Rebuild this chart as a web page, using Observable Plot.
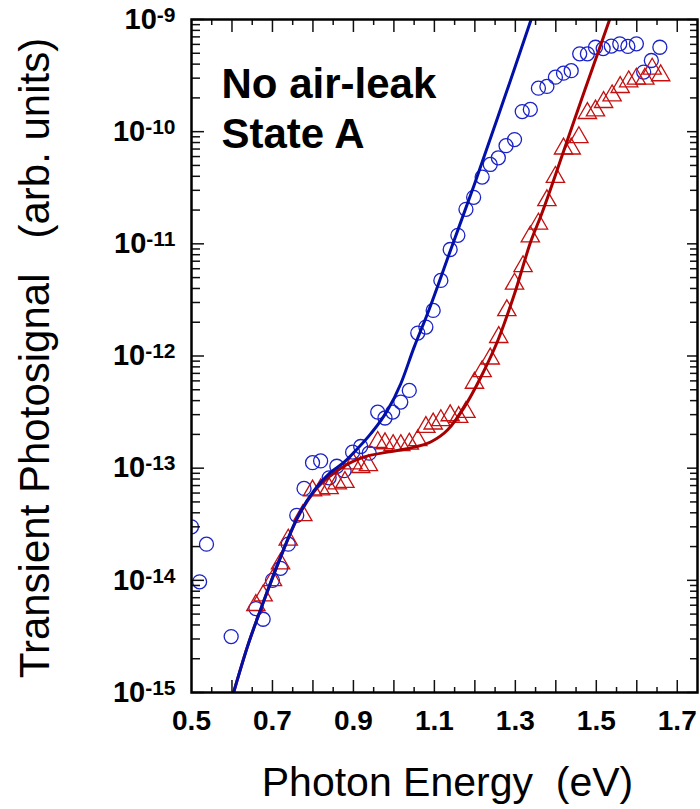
<!DOCTYPE html>
<html><head><meta charset="utf-8">
<script src="https://cdn.jsdelivr.net/npm/d3@7"></script>
<script src="https://cdn.jsdelivr.net/npm/@observablehq/plot@0.6"></script>
<style>body{margin:0;background:#fff} svg{display:block}</style>
</head><body><div id="chart"></div>
<script>
// Blue open circles (measured)
const circleX = [0.500,0.520,0.537,0.598,0.659,0.677,0.700,0.720,0.739,0.760,0.778,0.799,0.819,0.840,0.859,0.877,0.898,0.918,0.939,0.960,0.978,0.997,1.017,1.038,1.059,1.079,1.097,1.116,1.139,1.158,1.178,1.197,1.218,1.238,1.258,1.277,1.298,1.317,1.337,1.357,1.378,1.399,1.419,1.438,1.459,1.478,1.498,1.517,1.537,1.558,1.578,1.599,1.617,1.636,1.657];
const circleY = [3.0e-14,9.7e-15,2.1e-14,3.15e-15,5.6e-15,4.5e-15,1.0e-14,1.28e-14,2.1e-14,3.8e-14,6.6e-14,1.12e-13,1.16e-13,8.2e-14,1.04e-13,9.5e-14,1.39e-13,1.56e-13,1.36e-13,3.16e-13,2.8e-13,3.16e-13,3.88e-13,4.93e-13,1.6e-12,1.81e-12,2.55e-12,4.72e-12,8.9e-12,1.19e-11,2.03e-11,2.6e-11,3.94e-11,5.1e-11,5.85e-11,7.5e-11,8.5e-11,1.51e-10,1.58e-10,2.44e-10,2.53e-10,3.06e-10,3.32e-10,3.5e-10,4.94e-10,4.94e-10,5.66e-10,5.5e-10,5.8e-10,6.07e-10,5.75e-10,6.07e-10,3.4e-10,4.31e-10,5.66e-10];
// Red open triangles (measured)
const triX = [0.659,0.677,0.700,0.720,0.739,0.775,0.799,0.819,0.840,0.860,0.879,0.899,0.918,0.937,0.960,0.978,0.998,1.017,1.038,1.059,1.079,1.097,1.116,1.139,1.160,1.178,1.199,1.218,1.238,1.259,1.279,1.298,1.319,1.337,1.357,1.378,1.399,1.419,1.438,1.457,1.478,1.498,1.518,1.539,1.559,1.580,1.599,1.620,1.638,1.659];
const triY = [6.0e-15,7.3e-15,1.0e-14,1.41e-14,2.3e-14,3.8e-14,6.3e-14,6.45e-14,6.6e-14,7.3e-14,7.5e-14,1.1e-13,1.02e-13,1.06e-13,1.71e-13,1.66e-13,1.6e-13,1.6e-13,1.65e-13,1.77e-13,2.32e-13,2.49e-13,2.67e-13,2.95e-13,2.85e-13,3.16e-13,5.75e-13,7.3e-13,9.46e-13,1.47e-12,2.55e-12,4.4e-12,6.3e-12,1.16e-11,1.51e-11,2.44e-11,3.94e-11,7.05e-11,7.05e-11,8.9e-11,1.46e-10,1.54e-10,1.83e-10,2.1e-10,2.49e-10,2.8e-10,2.96e-10,2.96e-10,3.63e-10,3.17e-10];
// Blue fit curve
const blueFitX = [0.604,0.638,0.679,0.720,0.762,0.803,0.844,0.877,0.902,0.943,0.984,1.017,1.050,1.083,1.141,1.199,1.257,1.298,1.339];
const blueFitY = [1.0e-15,2.55e-15,6.6e-15,1.61e-14,3.66e-14,6.34e-14,9.2e-14,1.13e-13,1.39e-13,2.03e-13,3.27e-13,5.66e-13,1.2e-12,2.38e-12,9.0e-12,3.4e-11,1.36e-10,3.65e-10,1.0e-9];
// Red fit curve
const redFitX = [0.604,0.638,0.679,0.720,0.762,0.803,0.844,0.869,0.927,0.984,1.050,1.092,1.133,1.174,1.215,1.257,1.298,1.339,1.364,1.422,1.471,1.533];
const redFitY = [1.0e-15,2.55e-15,6.6e-15,1.61e-14,3.6e-14,6.2e-14,8.6e-14,1.0e-13,1.26e-13,1.39e-13,1.54e-13,1.72e-13,2.2e-13,3.5e-13,6.5e-13,1.38e-12,3.59e-12,1.07e-11,1.81e-11,7.16e-11,2.32e-10,1.0e-9];

// Axis ticks and labels
const xLabelTicks = [0.5,0.7,0.9,1.1,1.3,1.5,1.7];
const xMajorTicks = [0.6,0.7,0.8,0.9,1.0,1.1,1.2,1.3,1.4,1.5,1.6,1.7];
const xMinorTicks = [0.55,0.65,0.75,0.85,0.95,1.05,1.15,1.25,1.35,1.45,1.55,1.65];
const yExponents = [-15,-14,-13,-12,-11,-10,-9];
const yMajorTicks = yExponents.map(e => Math.pow(10, e));
const yMinorTicks = [];
for (const e of yExponents.slice(0, -1)) for (let m = 2; m <= 9; m++) yMinorTicks.push(m * Math.pow(10, e));

const annotation1 = "No air-leak";
const annotation2 = "State A";
const xTitle = "Photon Energy\u00a0\u00a0(eV)";
const yTitle = "Transient Photosignal\u00a0\u00a0\u00a0(arb. units)";

const circles = circleX.map((x, i) => ({x, y: circleY[i]}));
const tris = triX.map((x, i) => ({x, y: triY[i]}));
const blueFit = blueFitX.map((x, i) => ({x, y: blueFitY[i]}));
const redFit = redFitX.map((x, i) => ({x, y: redFitY[i]}));

const FONT = "'Liberation Sans', Arial, Helvetica, sans-serif";
const tickStroke = {stroke: "#111", strokeWidth: 1.5, tickFormat: () => ""};

const plot = Plot.plot({
  width: 700, height: 809,
  marginTop: 19, marginBottom: 117, marginLeft: 191, marginRight: 3,
  style: {fontFamily: FONT, background: "white", color: "black"},
  x: {domain: [0.5, 1.75], label: null},
  y: {type: "log", domain: [1e-15, 1e-9], label: null},
  marks: [
    Plot.dot(circles, {x: "x", y: "y", r: 7, stroke: "#1a22c8", strokeWidth: 1.3, fill: "none", clip: true}),
    Plot.dot(tris, {x: "x", y: "y", r: 6.8, symbol: "triangle", stroke: "#c41010", strokeWidth: 1.3, fill: "none", clip: true}),
    Plot.line(redFit, {x: "x", y: "y", stroke: "#a80000", strokeWidth: 3, curve: "monotone-x", clip: true}),
    Plot.line(blueFit, {x: "x", y: "y", stroke: "#0010a8", strokeWidth: 3, curve: "monotone-x", clip: true}),
    // inward ticks
    Plot.axisX({anchor: "bottom", ticks: xMajorTicks, tickSize: -12, ...tickStroke}),
    Plot.axisX({anchor: "bottom", ticks: xMinorTicks, tickSize: -5, ...tickStroke}),
    Plot.axisX({anchor: "top", ticks: xMajorTicks, tickSize: -12, ...tickStroke}),
    Plot.axisX({anchor: "top", ticks: xMinorTicks, tickSize: -5, ...tickStroke}),
    Plot.axisY({anchor: "left", ticks: yMajorTicks, tickSize: -13, ...tickStroke}),
    Plot.axisY({anchor: "left", ticks: yMinorTicks, tickSize: -9, ...tickStroke}),
    Plot.axisY({anchor: "right", ticks: yMajorTicks, tickSize: -11, ...tickStroke}),
    Plot.axisY({anchor: "right", ticks: yMinorTicks, tickSize: -8, ...tickStroke}),
    // tick labels
    Plot.axisX({anchor: "bottom", ticks: xLabelTicks, tickSize: 0, tickPadding: 18, fontSize: 28, fontWeight: "bold", fill: "black", tickFormat: d => d.toFixed(1)}),
    Plot.axisY({anchor: "left", ticks: yMajorTicks, tickSize: 0, tickPadding: 16, fontSize: 29, fontWeight: "bold", fill: "black", tickFormat: d => "10^" + Math.round(Math.log10(d))}),
    Plot.frame({stroke: "black", strokeWidth: 2.5}),
    // annotations
    Plot.text([annotation1], {frameAnchor: "top-left", dx: 30, dy: 78, textAnchor: "start", lineAnchor: "bottom", fontSize: 42, fontWeight: "bold", fill: "black"}),
    Plot.text([annotation2], {frameAnchor: "top-left", dx: 30, dy: 128, textAnchor: "start", lineAnchor: "bottom", fontSize: 42, fontWeight: "bold", fill: "black"}),
    Plot.text([xTitle], {frameAnchor: "bottom", dx: 3, dy: 103, lineAnchor: "bottom", textAnchor: "middle", fontSize: 41, fill: "black"}),
    Plot.text([yTitle], {frameAnchor: "left", dx: -156, dy: 2, rotate: -90, lineAnchor: "middle", textAnchor: "middle", fontSize: 42, fill: "black"})
  ]
});

// tick label font sizes
d3.select(plot).selectAll('g[aria-label="x-axis tick label"] text').style("font-size", "28px").style("font-weight", "bold");
// superscript exponents on y tick labels
d3.select(plot).selectAll('g[aria-label="y-axis tick label"] text').each(function() {
  const s = this.textContent;
  if (!s.includes("^")) return;
  const [base, exp] = s.split("^");
  const t = d3.select(this);
  t.style("font-size", "29px").style("font-weight", "bold");
  t.text(null);
  t.append("tspan").text(base);
  t.append("tspan").attr("dy", -7).style("font-size", "21px").text(exp);
});

document.getElementById("chart").appendChild(plot);
</script>
</body></html>
